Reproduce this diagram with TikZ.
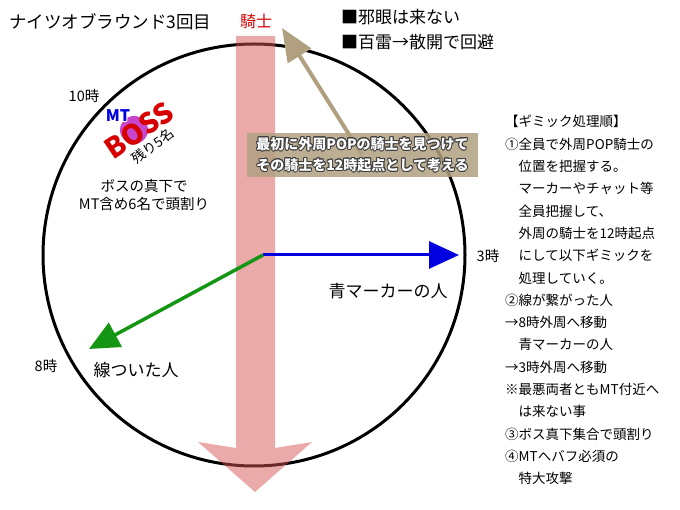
\documentclass[tikz,border=0pt]{standalone}
\usepackage{fontspec}
\setmainfont{Noto Sans CJK JP}
\usepackage{contour}
\contourlength{0.9pt}
\usetikzlibrary{arrows.meta}
\definecolor{barpink}{RGB}{213,85,85}
\definecolor{khaki}{RGB}{176,160,128}
\definecolor{markblue}{RGB}{0,0,225}
\definecolor{tethgreen}{RGB}{20,150,20}
\definecolor{knightred}{RGB}{215,0,0}
\definecolor{bosspurple}{RGB}{200,70,205}
\newcommand{\fsz}[1]{\fontsize{#1pt}{#1pt}\selectfont}
\tikzset{
  clocklbl/.style={font=\fsz{14.5}},
  memo/.style={font=\fsz{13.5}, anchor=base west, inner sep=0pt},
  movearrow/.style={line width=3pt, -{Triangle[length=30pt,width=27pt]}},
}

\begin{document}
\begin{tikzpicture}[x=1pt,y=-1pt]
  \useasboundingbox (0,0) rectangle (680,510);

  % arena
  \draw[line width=3pt] (254,255) circle (211pt);

  % knight line through the middle
  \fill[barpink, fill opacity=0.5] (236,36) -- (275,36) -- (275,448) -- (312,442)
    -- (255,492) -- (198,442) -- (236,448) -- cycle;

  % boss
  \fill[bosspurple] (134,130) circle (14pt);
  \node[font=\bfseries\fsz{16}, text=markblue] (mt) at (118,116) {\contour{white}{MT}};
  \node[font=\bfseries\fsz{28}, text=knightred, rotate=34] (boss) at (139,130) {BOSS};
  \node[font=\fsz{13.5}, rotate=37] (rest) at (153,146) {残り5名};

  % moves
  \coordinate (c) at (263,255);
  \coordinate (e3) at (459,255);
  \coordinate (e8) at (89,349);
  \draw[movearrow, markblue] (c) -- (e3);
  \draw[movearrow, tethgreen, line width=3.5pt] (c) -- (e8);

  % knight pop
  \coordinate (ks) at (362,155);
  \coordinate (k12) at (282,28);
  \draw[khaki, line width=4pt, -{Triangle[length=33pt,width=27pt]}] (ks) -- (k12);
  \node[fill=khaki, fill opacity=0.85, text opacity=1, minimum width=231pt, minimum height=44pt,
        inner sep=0pt, align=center, text=white, font=\bfseries\fontsize{14pt}{21pt}\selectfont] (note) at (362.5,155)
    {\contour{black!75}{最初に外周POPの騎士を見つけて}\\\contour{black!75}{その騎士を12時起点として考える}};

  % labels
  \node[font=\fsz{17.5}, anchor=west, inner sep=0pt] (title) at (9,22) {ナイツオブラウンド3回目};
  \node[font=\fsz{16}, text=knightred] (knight) at (256,21) {騎士};
  \node[font=\fsz{17}, anchor=west, inner sep=0pt] (rule1) at (341,17) {■邪眼は来ない};
  \node[font=\fsz{17}, anchor=west, inner sep=0pt] (rule2) at (341,42) {■百雷→散開で回避};
  \node[clocklbl] (h10) at (84,96) {10時};
  \node[clocklbl] (h8) at (46,366) {8時};
  \node[clocklbl] (h3) at (488,256) {3時};
  \node[font=\fontsize{14.5pt}{18pt}\selectfont, align=center] (stack) at (144,195) {ボスの真下で\\MT含め6名で頭割り};
  \node[font=\fsz{17}] (bluelbl) at (388,291) {青マーカーの人};
  \node[font=\fsz{17}] (tethlbl) at (136,370) {線ついた人};

  % gimmick order
  \foreach \ln [count=\i from 0] in {【ギミック処理順】, ①全員で外周POP騎士の, {\hspace*{1em}位置を把握する。},
      {\hspace*{1em}マーカーやチャット等}, {\hspace*{1em}全員把握して、}, {\hspace*{1em}外周の騎士を12時起点},
      {\hspace*{1em}にして以下ギミックを}, {\hspace*{1em}処理していく。}, ②線が繋がった人, →8時外周へ移動,
      {\hspace*{1em}青マーカーの人}, →3時外周へ移動, ※最悪両者ともMT付近へ, {\hspace*{1em}は来ない事},
      ③ボス真下集合で頭割り, ④MTへバフ必須の, {\hspace*{1em}特大攻撃}}
    \node[memo] (step\i) at (505,{127+22.3*\i}) {\ln};
\end{tikzpicture}
\end{document}
